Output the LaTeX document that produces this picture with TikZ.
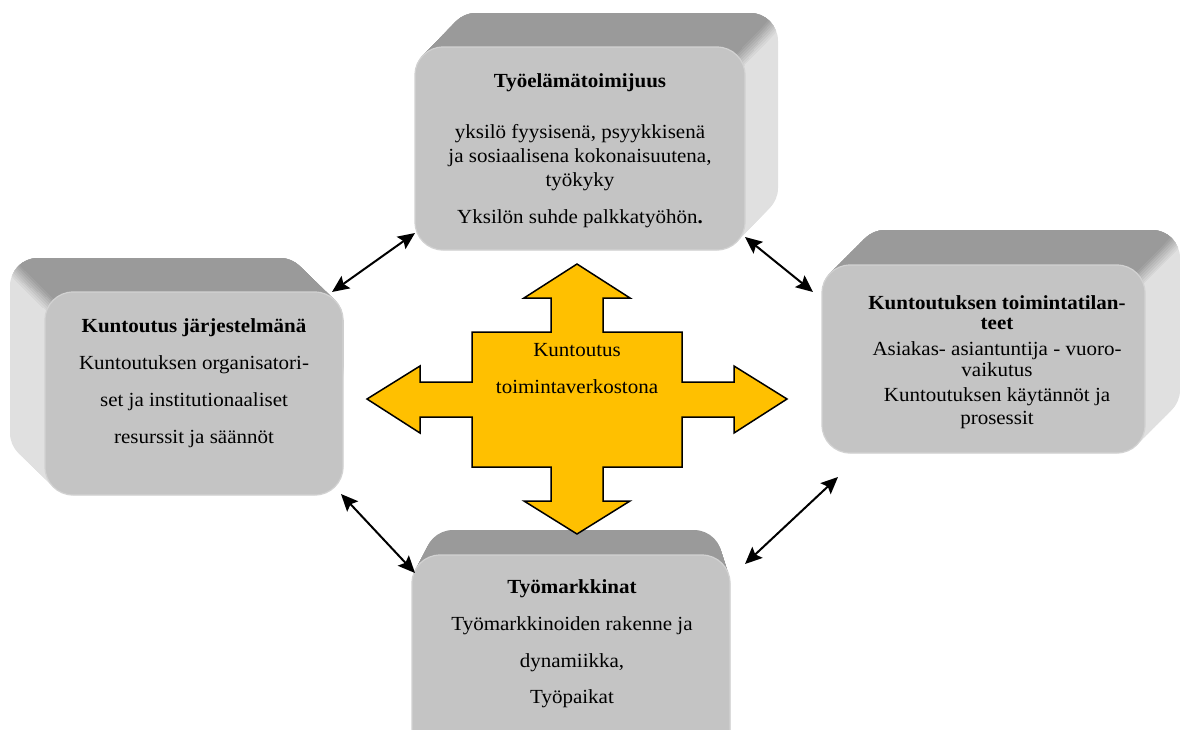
\documentclass[tikz,border=0pt]{standalone}
\usepackage{fontspec}
\setmainfont{Liberation Serif}[FakeStretch=1.05]
\usetikzlibrary{arrows.meta}
\definecolor{frontgray}{HTML}{C4C4C4}
\definecolor{topgray}{HTML}{9A9A9A}
\definecolor{sidegray}{HTML}{E0E0E0}
\definecolor{rimgray}{HTML}{D2D2D2}
\definecolor{crossgold}{HTML}{FFC000}
\newcommand{\boxsweep}[9]{%
  \foreach \i in {24,23,...,0}{%
    \fill[#9, rounded corners=28pt] ({#1+\i/24*(#5)},{#2+\i/24*(#6)}) rectangle ({#3+\i/24*(#7)},{#4+\i/24*(#8)});
  }}
\tikzset{
  frontbox/.style={draw=rimgray, line width=1.2pt, fill=frontgray, rounded corners=28pt, inner sep=0pt},
  txt/.style={font=\fontsize{20}{24}\selectfont, align=center, inner sep=0pt, text=black},
  conn/.style={{Stealth[length=17pt,width=15pt,inset=3pt]}-{Stealth[length=17pt,width=15pt,inset=3pt]}, line width=2pt},
  crossshape/.style={fill=crossgold, draw=black, line width=1.5pt, line join=miter}
}
\begin{document}
\begin{tikzpicture}[x=1pt,y=-1pt]
\useasboundingbox (0,0) rectangle (1180,729);
\clip (0,0) rectangle (1180,729);
\fill[white] (0,0) rectangle (1180,729);

% ---- top box extrusion
\boxsweep{415}{47}{745}{250}{33}{-34}{33}{-34}{sidegray}
\foreach \k/\p in {12/12,10/25,8/38,6/51,4/64,2/77,0/90,-2/100}{
  \begin{scope}
    \clip[shift={({\k*0.717},{\k*0.696})}] (802.8,-12.8) -- (670.8,123.2) -- (400,123.2) -- (400,-12.8) -- cycle;
    \boxsweep{415}{47}{745}{250}{33}{-34}{33}{-34}{topgray!\p!sidegray}
  \end{scope}
}
\node[frontbox, minimum width=330pt, minimum height=203pt] (T) at (580,148.5) {};

% ---- left box extrusion
\boxsweep{45}{292}{343}{495}{-35}{-34}{-35}{-34}{sidegray}
\foreach \k/\p in {12/12,10/25,8/38,6/51,4/64,2/77,0/90,-2/100}{
  \begin{scope}
    \clip[shift={({\k*-0.697},{\k*0.717})}] (-16.8,232.2) -- (123.2,368.2) -- (400,368.2) -- (400,200) -- (-16.8,200) -- cycle;
    \boxsweep{45}{292}{343}{495}{-35}{-34}{-35}{-34}{topgray!\p!sidegray}
  \end{scope}
}
\node[frontbox, minimum width=298pt, minimum height=203pt] (L) at (194,393.5) {};

% ---- right box extrusion
\boxsweep{822}{265}{1145}{453}{35}{-35}{35}{-35}{sidegray}
\foreach \k/\p in {12/12,10/25,8/38,6/51,4/64,2/77,0/90,-2/100}{
  \begin{scope}
    \clip[shift={({\k*0.707},{\k*0.707})}] (1206.8,203.2) -- (1066.8,343.2) -- (800,343.2) -- (800,203.2) -- cycle;
    \boxsweep{822}{265}{1145}{453}{35}{-35}{35}{-35}{topgray!\p!sidegray}
  \end{scope}
}
\node[frontbox, minimum width=323pt, minimum height=188pt] (R) at (983.5,359) {};

% ---- bottom box extrusion
\boxsweep{412}{555}{730}{770}{13}{-25}{-8}{-25}{topgray}
\node[frontbox, minimum width=318pt, minimum height=215pt] (B) at (571,662.5) {};

% ---- texts
\node[txt] (Tt) at (580,83) {\textbf{Työelämätoimijuus}};
\node[txt] (Tb) at (580,158) {yksilö fyysisenä, psyykkisenä\\ja sosiaalisena kokonaisuutena,\\työkyky};
\node[txt] (Tl) at (580,219) {Yksilön suhde palkkatyöhön\textbf{.}};

\node[txt, font=\fontsize{20}{37}\selectfont] (Lt) at (194,383) {\textbf{Kuntoutus järjestelmänä}\\Kuntoutuksen organisatori-\\set ja institutionaaliset\\resurssit ja säännöt};

\node[txt, font=\fontsize{20}{20}\selectfont] (Rt) at (997,313) {\textbf{Kuntoutuksen toimintatilan-}\\\textbf{teet}};
\node[txt, font=\fontsize{20}{21}\selectfont] (Rb) at (997,359) {Asiakas- asiantuntija - vuoro-\\vaikutus};
\node[txt, font=\fontsize{20}{23}\selectfont] (Rc) at (997,408) {Kuntoutuksen käytännöt ja\\prosessit};

\node[txt, font=\fontsize{20}{36.7}\selectfont] (Bt) at (572,644) {\textbf{Työmarkkinat}\\Työmarkkinoiden rakenne ja\\dynamiikka,\\Työpaikat};

% ---- central cross arrow
\draw[crossshape] (577,264) -- (630,298) -- (603,298) -- (603,332) -- (682,332) -- (682,382) -- (734,382) -- (734,366) -- (787,399) -- (734,433) -- (734,417) -- (682,417) -- (682,467) -- (603,467) -- (603,501) -- (630,501) -- (577,534) -- (524,501) -- (551,501) -- (551,467) -- (472,467) -- (472,417) -- (420,417) -- (420,433) -- (367,399) -- (420,366) -- (420,382) -- (472,382) -- (472,332) -- (551,332) -- (551,298) -- (524,298) -- cycle;
\node[txt, font=\fontsize{20}{37}\selectfont] (C) at (577,369) {Kuntoutus\\toimintaverkostona};

% ---- connectors
\coordinate (a1) at (332,292);
\coordinate (a2) at (415,233);
\coordinate (b1) at (745,237);
\coordinate (b2) at (813,292);
\coordinate (c1) at (341,494);
\coordinate (c2) at (415,573);
\coordinate (d1) at (745,564);
\coordinate (d2) at (838,477);
\draw[conn] (a1) -- (a2);
\draw[conn] (b1) -- (b2);
\draw[conn] (c1) -- (c2);
\draw[conn] (d1) -- (d2);
\end{tikzpicture}
\end{document}
